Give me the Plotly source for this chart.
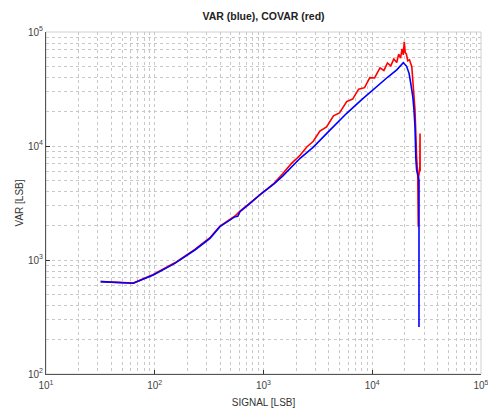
import plotly.graph_objects as go

# ---- data ----
blue_signal = [31.8, 40, 50, 63.5, 97, 153, 234, 322, 398, 547, 580, 608, 725, 962, 1250, 1500,
               2170, 2870, 4000, 5820, 8000, 11780, 14000, 16800, 18000, 19300, 20700,
               21800, 22600, 23600, 24200, 24700, 25200, 25600, 26500, 26900, 26900]
blue_var = [646, 638, 632, 625, 738, 935, 1224, 1550, 1960, 2400, 2420, 2655, 3040, 3850, 4650, 5450,
            7800, 9770, 13500, 19360, 25500, 35500, 40500, 46500, 50000, 53800, 50000,
            43400, 35500, 27100, 20700, 15000, 7540, 6150, 5360, 5000, 258]

red_signal = [31.8, 40, 50, 63.5, 97, 153, 234, 322, 398, 547, 608, 725, 962, 1250, 1500, 1800,
              2170, 2500, 2870, 3300, 3800, 4400, 5000, 5820, 6600, 7500, 8500, 9500, 10500,
              11780, 12800, 13800, 14800, 15800, 16800, 17500, 18200, 18800, 19300, 19700,
              20100, 20600, 21200, 22000, 23100, 24200, 24700, 25600, 26200, 26500, 26600,
              27400, 27500, 27550]
red_covar = [646, 640, 634, 627, 745, 945, 1240, 1570, 1985, 2430, 2680, 3080, 3880, 4700, 5700, 7000,
             8300, 9800, 11000, 13500, 14700, 18400, 19500, 24500, 25800, 31500, 32500, 39800,
             39500, 48500, 46000, 53500, 50500, 58000, 54000, 64000, 59000, 71000, 63000, 82000,
             66000, 64000, 56000, 57000, 49600, 27100, 21000, 8000, 5500, 1960, 5200,
             6500, 12900, 6000]

x_tickvals = [10, 100, 1000, 10000, 100000]
x_ticktext = ["10<sup>1</sup>", "10<sup>2</sup>", "10<sup>3</sup>", "10<sup>4</sup>", "10<sup>5</sup>"]
y_tickvals = [100, 1000, 10000, 100000]
y_ticktext = ["10<sup>2</sup>", "10<sup>3</sup>", "10<sup>4</sup>", "10<sup>5</sup>"]
x_minor = [m * 10 ** e for e in range(1, 5) for m in range(2, 10)]
y_minor = [m * 10 ** e for e in range(2, 5) for m in range(2, 10)]

FONT = "Liberation Sans, Arial, sans-serif"
GRID = "#c8c8c8"

fig = go.Figure()
fig.add_trace(go.Scatter(x=red_signal, y=red_covar, mode="lines",
                         line=dict(color="#ff0000", width=1.6), showlegend=False))
fig.add_trace(go.Scatter(x=blue_signal, y=blue_var, mode="lines",
                         line=dict(color="#0000ff", width=1.6), showlegend=False))


def axis(minor_vals):
    return dict(
        type="log", showline=True, linecolor="#555555", linewidth=1,
        ticks="inside", ticklen=4, tickcolor="#333333", tickwidth=1,
        showgrid=True, gridcolor=GRID, griddash="dot", gridwidth=1,
        minor=dict(tickmode="array", tickvals=minor_vals, showgrid=True,
                   gridcolor=GRID, griddash="dot", gridwidth=1, ticks=""),
        tickfont=dict(family=FONT, size=10, color="#444444"),
        zeroline=False, mirror=False, automargin=False, ticklabeloverflow="allow",
    )


fig.update_layout(
    width=488, height=410,
    margin=dict(l=46, r=7, t=32, b=36),
    paper_bgcolor="white", plot_bgcolor="white",
    title=dict(text="<b>VAR (blue), COVAR (red)</b>", x=0.5, xref="paper",
               y=1 - 16 / 410, yref="container", yanchor="middle", xanchor="center",
               font=dict(family=FONT, size=10.5, color="#222222")),
    xaxis=dict(axis(x_minor), range=[1, 5], tickvals=x_tickvals, ticktext=x_ticktext,
               ticklabelstandoff=2,
               title=dict(text="SIGNAL [LSB]", font=dict(family=FONT, size=10, color="#333333"),
                          standoff=8)),
    yaxis=dict(axis(y_minor), range=[2, 5], tickvals=y_tickvals, ticktext=y_ticktext,
               title=dict(text="VAR [LSB]", font=dict(family=FONT, size=10, color="#333333"),
                          standoff=2)),
    shapes=[dict(type="rect", xref="paper", yref="paper", x0=0, x1=1, y0=0, y1=1,
                 line=dict(color="#d0d0d0", width=1), layer="below")],
)

fig.write_html("out.html", config={"displayModeBar": False},
               post_script="document.body.style.margin='0';document.body.style.padding='0';")
